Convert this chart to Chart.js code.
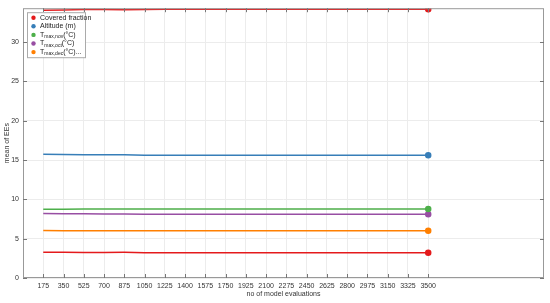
<!DOCTYPE html>
<html>
<head>
<meta charset="utf-8">
<script src="https://cdn.jsdelivr.net/npm/chart.js@4.4.0/dist/chart.umd.min.js"></script>
<style>
  html, body { margin: 0; padding: 0; background: #fff; }
  #wrap { width: 550px; height: 303px; }
</style>
</head>
<body>
<div id="wrap"><canvas id="chart" width="550" height="303"></canvas></div>
<script>
// x positions (number of model evaluations)
const evaluations = [175, 350, 525, 700, 875, 1050, 1225, 1400, 1575, 1750, 1925, 2100, 2275, 2450, 2625, 2800, 2975, 3150, 3325, 3500];
const yTicks = [0, 5, 10, 15, 20, 25, 30];

// series (mean of EEs)
const coveredFraction = [3.27, 3.26, 3.25, 3.25, 3.26, 3.22, 3.22, 3.22, 3.22, 3.22, 3.22, 3.22, 3.22, 3.22, 3.22, 3.22, 3.22, 3.22, 3.22, 3.22];
const altitude = [15.72, 15.7, 15.68, 15.66, 15.67, 15.62, 15.62, 15.62, 15.62, 15.62, 15.62, 15.62, 15.62, 15.62, 15.62, 15.62, 15.62, 15.62, 15.62, 15.62];
const tmaxNov = [8.75, 8.75, 8.76, 8.78, 8.78, 8.76, 8.76, 8.77, 8.77, 8.77, 8.77, 8.77, 8.77, 8.77, 8.77, 8.77, 8.77, 8.77, 8.77, 8.77];
const tmaxOct = [8.2, 8.18, 8.16, 8.14, 8.13, 8.12, 8.12, 8.12, 8.11, 8.11, 8.11, 8.11, 8.11, 8.11, 8.11, 8.11, 8.11, 8.11, 8.11, 8.11];
const tmaxDec = [6.04, 6.02, 6.01, 6.02, 6.02, 6.02, 6.02, 6.02, 6.02, 6.02, 6.02, 6.02, 6.02, 6.02, 6.02, 6.02, 6.02, 6.02, 6.02, 6.02];
const topSeries = [34.05, 34.08, 34.12, 34.15, 34.1, 34.14, 34.16, 34.16, 34.16, 34.16, 34.16, 34.16, 34.16, 34.16, 34.16, 34.16, 34.16, 34.16, 34.16, 34.17];

const colors = ['#e41a1c', '#377eb8', '#4daf4a', '#984ea3', '#ff7f00', '#e41a1c'];
// legend labels: [main, subscript, rest]
const legendLabels = [
  ['Covered fraction', '', ''],
  ['Altitude (m)', '', ''],
  ['T', 'max,nov', '(\u00B0C)'],
  ['T', 'max,oct', '(\u00B0C)'],
  ['T', 'max,dec', '(\u00B0C)...']
];

function makeSet(label, values, color) {
  return {
    label: label,
    data: values.map((v, i) => ({ x: evaluations[i], y: v })),
    borderColor: color,
    backgroundColor: color,
    borderWidth: 1.5,
    pointRadius: values.map((v, i) => i === values.length - 1 ? 2.5 : 0),
    pointHoverRadius: 0,
    tension: 0
  };
}

const FONT = '"Liberation Sans", Arial, sans-serif';

// inner ticks on all four sides + legend box, MATLAB style
const boxPlugin = {
  id: 'boxPlugin',
  afterDraw(chart) {
    const ctx = chart.ctx;
    const a = chart.chartArea;
    const xs = chart.scales.x, ys = chart.scales.y;
    ctx.save();
    ctx.strokeStyle = '#999';
    ctx.lineWidth = 1;
    ctx.strokeRect(a.left + 0.5, a.top + 0.5, a.right - a.left - 1, a.bottom - a.top - 1);
    ctx.strokeStyle = '#777';
    ctx.beginPath();
    evaluations.forEach(v => {
      const px = Math.round(xs.getPixelForValue(v)) + 0.5;
      ctx.moveTo(px, a.bottom); ctx.lineTo(px, a.bottom - 4);
      ctx.moveTo(px, a.top); ctx.lineTo(px, a.top + 4);
    });
    yTicks.forEach(v => {
      const py = Math.round(ys.getPixelForValue(v)) + 0.5;
      ctx.moveTo(a.left, py); ctx.lineTo(a.left + 4, py);
      ctx.moveTo(a.right, py); ctx.lineTo(a.right - 4, py);
    });
    ctx.stroke();

    // legend
    const lx = a.left + 4, ly = a.top + 4, lw = 58, lh = 45;
    ctx.fillStyle = 'rgba(255,255,255,0.95)';
    ctx.fillRect(lx, ly, lw, lh);
    ctx.strokeStyle = '#aaa';
    ctx.strokeRect(lx + 0.5, ly + 0.5, lw, lh);
    ctx.textBaseline = 'middle';
    legendLabels.forEach((parts, i) => {
      const cy = ly + 5.5 + i * 8.6;
      ctx.fillStyle = colors[i];
      ctx.beginPath();
      ctx.arc(lx + 6.5, cy, 2.2, 0, Math.PI * 2);
      ctx.fill();
      ctx.fillStyle = '#222';
      let tx = lx + 13;
      ctx.font = '7px ' + FONT;
      ctx.fillText(parts[0], tx, cy);
      tx += ctx.measureText(parts[0]).width;
      if (parts[1]) {
        ctx.font = '5px ' + FONT;
        ctx.fillText(parts[1], tx, cy + 2);
        tx += ctx.measureText(parts[1]).width;
      }
      if (parts[2]) {
        ctx.font = '7px ' + FONT;
        ctx.fillText(parts[2], tx, cy);
      }
    });
    ctx.restore();
  }
};

const chart = new Chart(document.getElementById('chart').getContext('2d'), {
  type: 'line',
  data: {
    datasets: [
      makeSet('Covered fraction', coveredFraction, colors[0]),
      makeSet('Altitude (m)', altitude, colors[1]),
      makeSet('Tmax,nov(°C)', tmaxNov, colors[2]),
      makeSet('Tmax,oct(°C)', tmaxOct, colors[3]),
      makeSet('Tmax,dec(°C)', tmaxDec, colors[4]),
      makeSet('Tmax,jan(°C)', topSeries, colors[5])
    ]
  },
  options: {
    responsive: false,
    animation: false,
    layout: { padding: { top: 5, right: 6, left: 0, bottom: 0 } },
    scales: {
      x: {
        type: 'linear',
        min: 0,
        max: 4500,
        afterBuildTicks: scale => { scale.ticks = evaluations.map(v => ({ value: v })); },
        afterFit: scale => { scale.height = 25; },
        grid: { color: '#ececec', drawTicks: false },
        border: { display: false },
        ticks: { color: '#333', font: { size: 7, family: FONT }, padding: 4, maxRotation: 0, autoSkip: false,
                 callback: v => String(v) },
        title: { display: true, text: 'no of model evaluations', color: '#333', font: { size: 7, family: FONT },
                 padding: { top: 0, bottom: 5 } }
      },
      y: {
        min: 0,
        max: 34.3,
        afterBuildTicks: scale => { scale.ticks = yTicks.map(v => ({ value: v })); },
        afterFit: scale => { scale.width = 23; },
        grid: { color: '#ececec', drawTicks: false },
        border: { display: false },
        ticks: { color: '#333', font: { size: 7, family: FONT }, padding: 4 },
        title: { display: true, text: 'mean of EEs', color: '#333', font: { size: 7, family: FONT },
                 padding: { top: 3, bottom: 0 } }
      }
    },
    plugins: {
      legend: { display: false },
      tooltip: { enabled: false }
    }
  },
  plugins: [boxPlugin]
});
</script>
</body>
</html>
